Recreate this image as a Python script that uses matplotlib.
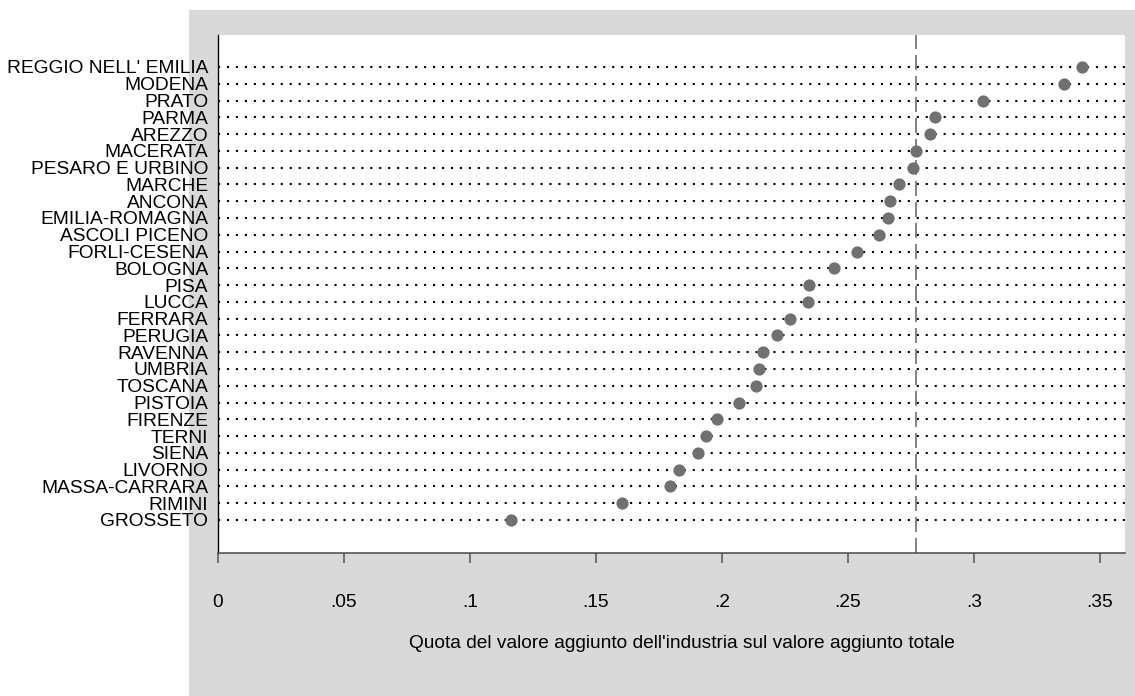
import matplotlib.pyplot as plt
import matplotlib.patches as mpatches

plt.rcParams["font.family"] = ["Liberation Sans", "DejaVu Sans"]

# industry share of value added, by area (sorted high -> low)
areas = ["REGGIO NELL' EMILIA", "MODENA", "PRATO", "PARMA", "AREZZO",
         "MACERATA", "PESARO E URBINO", "MARCHE", "ANCONA", "EMILIA-ROMAGNA",
         "ASCOLI PICENO", "FORLI-CESENA", "BOLOGNA", "PISA", "LUCCA",
         "FERRARA", "PERUGIA", "RAVENNA", "UMBRIA", "TOSCANA", "PISTOIA",
         "FIRENZE", "TERNI", "SIENA", "LIVORNO", "MASSA-CARRARA", "RIMINI",
         "GROSSETO"]
quota = [0.3429, 0.3356, 0.3037, 0.2847, 0.2828,
         0.2770, 0.2758, 0.2701, 0.2667, 0.2661,
         0.2623, 0.2537, 0.2444, 0.2345, 0.2340,
         0.2272, 0.2219, 0.2163, 0.2148, 0.2136, 0.2069,
         0.1980, 0.1937, 0.1907, 0.1829, 0.1794, 0.1602,
         0.1161]
ref_line = 0.2770
xticks = [0, 0.05, 0.1, 0.15, 0.2, 0.25, 0.3, 0.35]
xticklabels = ["0", ".05", ".1", ".15", ".2", ".25", ".3", ".35"]

fig = plt.figure(figsize=(11.35, 6.96), dpi=100)

# grey graph region behind the plot
fig.patches.append(mpatches.Rectangle((189 / 1135, 0), 1 - 189 / 1135, 1 - 10 / 696,
                                      transform=fig.transFigure,
                                      facecolor="#d9d9d9", edgecolor="none", zorder=-1))

ax = fig.add_axes([218 / 1135, 1 - 553 / 696, (1125 - 218) / 1135, (553 - 35) / 696])
ax.set_facecolor("white")

ypos = list(range(len(areas)))
ax.hlines(ypos, 0, 0.36, colors="black", linewidth=1.5,
          linestyles=[(0, (1, 3.3))], zorder=1)
ax.axvline(ref_line, color="#6e6e6e", linewidth=1.2,
           linestyle=(0, (9, 3.6)), zorder=2)
ax.plot(quota, ypos, "o", color="#707070", markersize=8.8,
        markeredgewidth=0, zorder=3)

ax.set_xlim(0, 0.36)
ax.set_ylim(len(areas) - 1 + 1.967, -1.907)

ax.set_yticks(ypos)
ax.set_yticklabels(areas, fontsize=13.8)
ax.tick_params(axis="y", length=0, pad=7)

ax.set_xticks(xticks)
ax.set_xticklabels(xticklabels, fontsize=13.8)
ax.tick_params(axis="x", length=7.5, width=1.1, color="#555555", pad=22)

for side in ["top", "right"]:
    ax.spines[side].set_visible(False)
ax.spines["left"].set_color("black")
ax.spines["left"].set_linewidth(1.0)
ax.spines["bottom"].set_color("#555555")
ax.spines["bottom"].set_linewidth(1.2)

ax.set_xlabel("Quota del valore aggiunto dell'industria sul valore aggiunto totale",
              fontsize=13.8)
ax.xaxis.set_label_coords((682 - 218) / 907, (553 - 643) / 518)
ax.xaxis.label.set_va("center")

fig.savefig("out.png", dpi=100)
